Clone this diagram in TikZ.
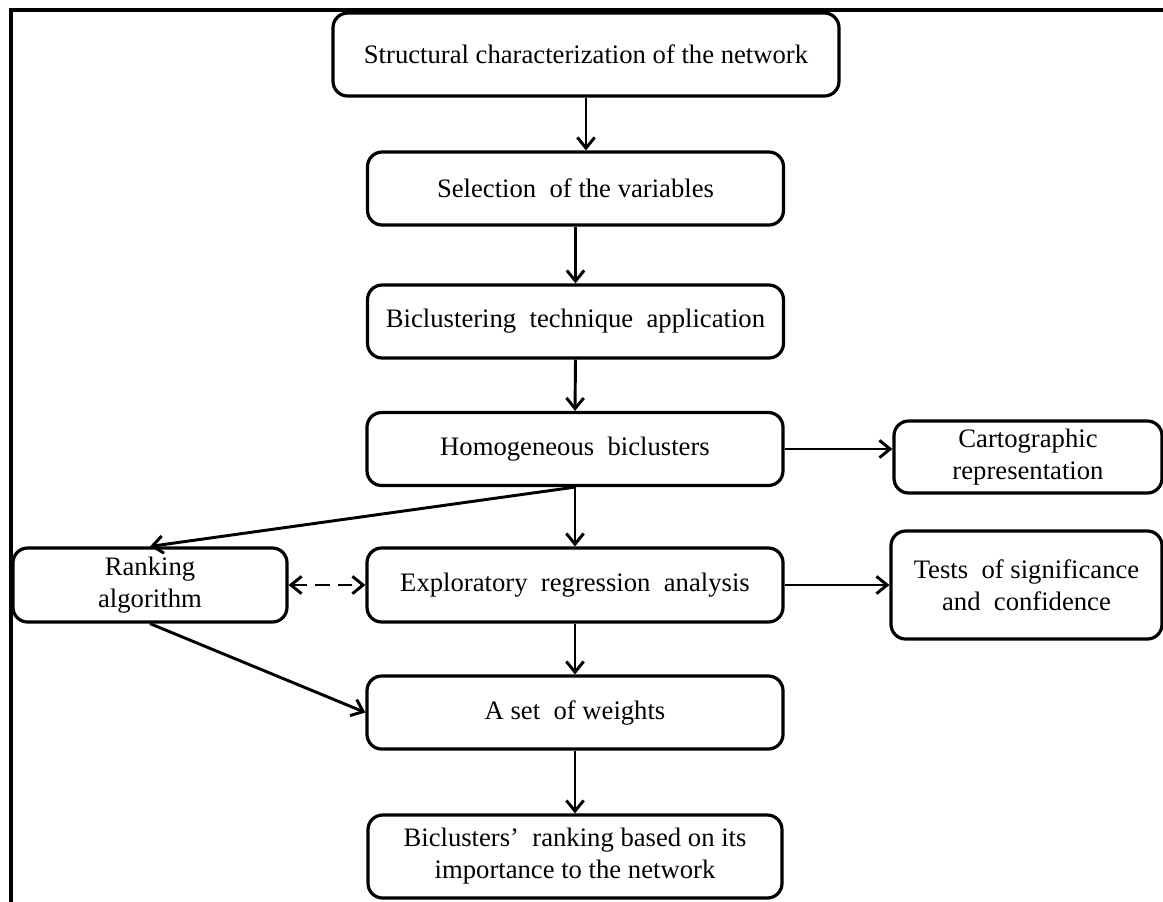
\documentclass[tikz,border=0pt]{standalone}
\usepackage{fontspec}
\setmainfont{Liberation Serif}
\usetikzlibrary{arrows.meta}
\begin{document}
\begin{tikzpicture}[x=0.75pt, y=-0.75pt,
  stepbox/.style={draw, line width=2.4pt, rounded corners=11pt, align=center,
    inner sep=2pt, font=\fontsize{20}{24}\selectfont},
  midbox/.style={stepbox, minimum width=312pt, minimum height=54.75pt},
  tip/.style={Straight Barb[length=8pt,width=13pt,line width=2.2pt]},
  arr/.style={line width=2.2pt, -{Straight Barb[length=8pt,width=13pt,line width=2.2pt]}},
  darr/.style={line width=2.2pt, dash pattern=on 11pt off 6pt,
    {Straight Barb[length=8pt,width=13pt,line width=2.2pt]}-{Straight Barb[length=8pt,width=13pt,line width=2.2pt]}}
]
\useasboundingbox (0,0) rectangle (1163,901);
\fill[white] (0,0) rectangle (1163,901);

% outer frame (left and top edges)
\draw[line width=2.4pt] (11,905) -- (11,10) -- (1170,10);

% main column
\node[stepbox, minimum width=379.5pt, minimum height=62.25pt] (s1) at (586,54.5)
  {Structural characterization of the network};
\node[midbox] (s2) at (575.5,188.5) {Selection \ of the variables};
\node[midbox] (s3) at (575.5,321.5) {Biclustering \ technique \ application};
\node[midbox] (s4) at (575,449) {Homogeneous \ biclusters};
\node[midbox, minimum height=55.5pt] (s5) at (575,585) {Exploratory \ regression \ analysis};
\node[midbox] (s6) at (575,712.5) {A set \ of weights};
\node[stepbox, minimum width=310.5pt, minimum height=62.25pt] (s7) at (575,856.5)
  {Biclusters’ \ ranking based on its\\ importance to the network};

% side boxes
\node[stepbox, minimum width=205.5pt, minimum height=55.5pt] (rk) at (150,585)
  {Ranking\\ algorithm};
\node[stepbox, minimum width=201pt, minimum height=54pt] (ct) at (1028,457)
  {Cartographic\\ representation};
\node[stepbox, minimum width=203.25pt, minimum height=81pt] (ts) at (1026.5,585)
  {Tests \ of significance\\ and \ confidence};

% connectors
\draw[arr] (s1.south) -- (s1.south |- s2.north);
\draw[arr] (s2.south) -- (s3.north);
\draw[arr] (s3.south) -- (s4.north);
\draw[arr] (s4.south) -- (s5.north);
\draw[arr] (s5.south) -- (s6.north);
\draw[arr] (s6.south) -- (s7.north);
\draw[arr] (s4.east) -- (s4.east -| ct.west);
\draw[arr] (s5.east) -- (ts.west);
\draw[arr] (s4.south) -- (rk.north);
\draw[arr] (rk.south) -- (s6.west);
\draw[darr] (rk.east) -- (s5.west);
\end{tikzpicture}
\end{document}
